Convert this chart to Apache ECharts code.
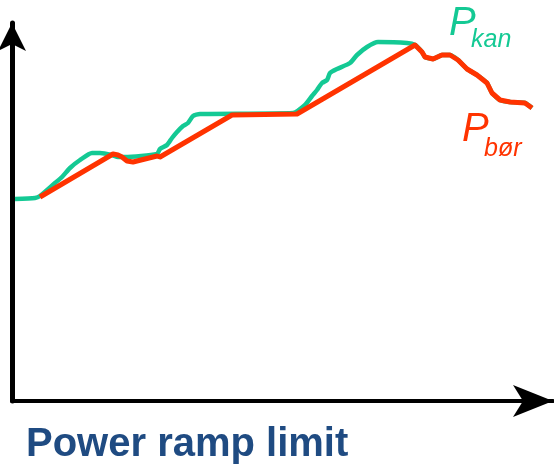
<!DOCTYPE html>
<html>
<head>
<meta charset="utf-8">
<script src="https://cdn.jsdelivr.net/npm/echarts@6/dist/echarts.min.js"></script>
<style>html,body{margin:0;padding:0;background:#fff}#c{width:554px;height:465px}</style>
</head>
<body>
<div id="c"></div>
<script>
// Available power (P_kan): [x, y]
const pKan = [
  [3,202],[23,203],[28,205],[43,218],[50,224],[58,233],[68,241],[80,248],[88,248],
  [100,246],[106,244],[113,244],[145,247],[148,252],[155,256],[160,263],[165,269],
  [171,275],[176,278],[181,285],[188,287],[281,288],[293,296],[300,305],[305,311],
  [310,318],[315,321],[318,328],[325,332],[338,338],[345,346],[355,354],[366,359],
  [395,358],[403,356],[410,349],[413,344],[421,342],[430,346],[438,346],[446,341],
  [455,332],[465,326],[475,318],[480,308],[488,301],[498,299],[513,298],[520,293]
];
// Setpoint power (P_bør): [x, y]
const pBor = [
  [28,204],[101,247],[106,246],[110,244],[115,240],[121,239],[145,245],[148,244],
  [220,286],[285,287],[403,356],[410,349],[413,344],[421,342],[430,346],[438,346],
  [446,341],[455,332],[465,326],[475,318],[480,308],[488,301],[498,299],[513,298],[520,293]
];
const titleText = 'Power ramp limit';
const labelKan = ['P', 'kan'];
const labelBor = ['P', 'bør'];

const chart = echarts.init(document.getElementById('c'), null, {renderer: 'canvas'});
const lblFont = "'Liberation Sans Narrow','Liberation Sans',Arial,sans-serif";
chart.setOption({
  animation: false,
  grid: {left: 12, right: 1, top: 23, bottom: 64, containLabel: false},
  xAxis: {
    type: 'value', min: 0, max: 541,
    axisLine: {show: true, onZero: false, symbol: ['none', 'arrow'], symbolSize: [24, 40],
      lineStyle: {color: '#000', width: 4}},
    axisTick: {show: false}, axisLabel: {show: false}, splitLine: {show: false}
  },
  yAxis: {
    type: 'value', min: 0, max: 378,
    axisLine: {show: true, onZero: false, symbol: ['none', 'arrow'], symbolSize: [21, 28],
      lineStyle: {color: '#000', width: 5}},
    axisTick: {show: false}, axisLabel: {show: false}, splitLine: {show: false}
  },
  series: [
    {type: 'line', name: 'P kan', data: pKan, showSymbol: false, smooth: 0.2,
      lineStyle: {color: '#14c994', width: 4.5}, z: 2},
    {type: 'line', name: 'P bør', data: pBor, showSymbol: false, smooth: false,
      lineStyle: {color: '#ff3300', width: 5, join: 'round'}, z: 3}
  ],
  graphic: [
    {type: 'text', left: 26, top: 425, style: {text: titleText, font: "bold 40px 'Liberation Sans',Arial,sans-serif", fill: '#1f4b82'}},
    {type: 'text', x: 449, y: 4, style: {text: labelKan[0], font: "italic 40px " + lblFont, fill: '#14c994', verticalAlign: 'top'}},
    {type: 'text', x: 471, y: 28, style: {text: labelKan[1], font: "italic 25px " + lblFont, fill: '#14c994', verticalAlign: 'top'}},
    {type: 'text', x: 462, y: 110, style: {text: labelBor[0], font: "italic 40px " + lblFont, fill: '#ff3300', verticalAlign: 'top'}},
    {type: 'text', x: 484, y: 137, style: {text: labelBor[1], font: "italic 25px " + lblFont, fill: '#ff3300', verticalAlign: 'top'}}
  ]
});
</script>
</body>
</html>
